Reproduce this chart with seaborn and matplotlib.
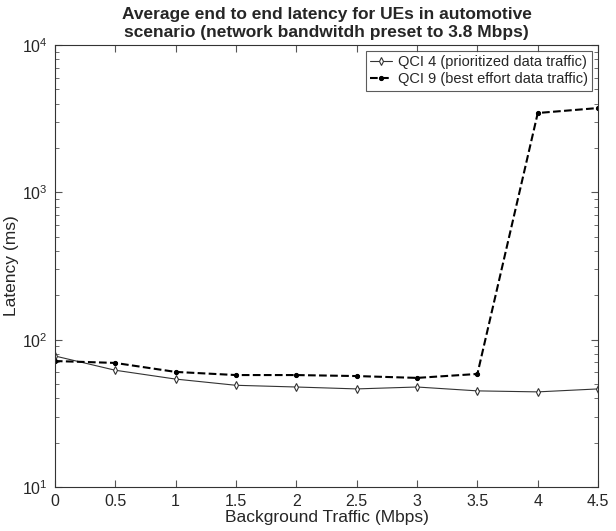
import numpy as np
import pandas as pd
import seaborn as sns
import matplotlib.pyplot as plt
from matplotlib.ticker import LogLocator, NullFormatter

sns.set_style("ticks")
plt.rcParams['font.family'] = ['Liberation Sans', 'DejaVu Sans']

# background traffic (Mbps)
traffic = [0, 0.5, 1, 1.5, 2, 2.5, 3, 3.5, 4, 4.5]
# latency (ms)
qci4 = [77.5, 62, 54, 49, 47.7, 46.3, 47.7, 44.9, 44.2, 46.3]
qci9 = [71.6, 69.5, 60.4, 57.5, 57.5, 56.6, 55, 58.5, 3460, 3740]

label4 = "QCI 4 (prioritized data traffic)"
label9 = "QCI 9 (best effort data traffic)"

fig = plt.figure(figsize=(6.16, 5.31), dpi=100)
ax = fig.add_axes([0.089, 0.083, 0.882, 0.832])

sns.lineplot(x=traffic, y=qci4, ax=ax, color="#333333", linewidth=0.8,
             marker="d", markersize=4, markerfacecolor="white",
             markeredgecolor="#333333", markeredgewidth=0.8, label=label4)
sns.lineplot(x=traffic, y=qci9, ax=ax, color="black", linewidth=1.5,
             linestyle="--", dashes=(4, 3), marker="o", markersize=3,
             markerfacecolor="black", markeredgecolor="black", label=label9)

ax.set_yscale("log")
ax.set_xlim(0, 4.5)
ax.set_ylim(10, 10000)
ax.set_xticks(traffic)
ax.set_xticklabels(["0", "0.5", "1", "1.5", "2", "2.5", "3", "3.5", "4", "4.5"])
ax.yaxis.set_minor_locator(LogLocator(base=10, subs=np.arange(2, 10)))
ax.yaxis.set_minor_formatter(NullFormatter())
ax.tick_params(which="both", direction="in", top=True, right=True,
               labelsize=11.5, color="#555555", pad=5)
ax.tick_params(which="major", length=5)
ax.tick_params(which="minor", length=3)
for s in ax.spines.values():
    s.set_linewidth(0.8)
    s.set_color("#333333")

ax.set_xlabel("Background Traffic (Mbps)", fontsize=12.5, labelpad=1)
ax.set_ylabel("Latency (ms)", fontsize=12.5, labelpad=2)
ax.set_title("Average end to end latency for UEs in automotive\n"
             "scenario (network bandwitdh preset to 3.8 Mbps)",
             fontsize=12.5, fontweight="bold", pad=6)

leg = ax.legend(loc="upper right", fontsize=10.5, frameon=True, fancybox=False,
                edgecolor="#333333", handlelength=1.5, borderpad=0.3,
                labelspacing=0.2, borderaxespad=0.4, handletextpad=0.4)
leg.get_frame().set_linewidth(0.8)

fig.savefig("out.png", dpi=100)
